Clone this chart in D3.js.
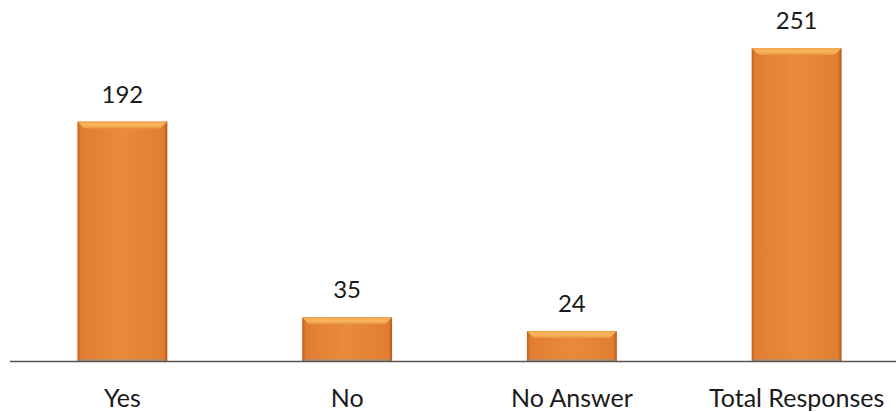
<!DOCTYPE html>
<html>
<head>
<meta charset="utf-8">
<script src="https://cdn.jsdelivr.net/npm/d3@7"></script>
<style>
  html, body { margin: 0; padding: 0; background: #fff; }
  svg { display: block; }
  text { font-family: Lato, "Open Sans", sans-serif; fill: #1a1a1a; }
</style>
</head>
<body>
<svg id="chart" width="896" height="412"></svg>
<script>
// Survey responses
const categories = ["Yes", "No", "No Answer", "Total Responses"];
const values = [192, 35, 24, 251];

const width = 896, height = 412;
const baseline = 361;

const svg = d3.select("#chart");

const x = d3.scaleBand()
  .domain(categories)
  .range([10, 909])
  .paddingInner(0.6)
  .paddingOuter(0.3);

const y = d3.scaleLinear()
  .domain([0, 251])
  .range([baseline, 48]);

// Gradients for a bevelled bar look
const defs = svg.append("defs");
const bodyGrad = defs.append("linearGradient").attr("id", "barBody")
  .attr("x1", 0).attr("x2", 1).attr("y1", 0).attr("y2", 0);
[[0, "#c4601c"], [0.04, "#e07d32"], [0.5, "#ea8a3c"], [0.96, "#e07d32"], [1, "#b9561a"]]
  .forEach(([o, c]) => bodyGrad.append("stop").attr("offset", o).attr("stop-color", c));

const topGrad = defs.append("linearGradient").attr("id", "barTop")
  .attr("x1", 0).attr("x2", 0).attr("y1", 0).attr("y2", 1);
[[0, "#f3a54e"], [0.5, "#f7b85c"], [1, "#eb9440"]]
  .forEach(([o, c]) => topGrad.append("stop").attr("offset", o).attr("stop-color", c));

const g = svg.append("g");
const bars = g.selectAll("g.bar").data(categories.map((c, i) => ({ c, v: values[i] })))
  .join("g").attr("class", "bar");

bars.append("rect")
  .attr("x", d => x(d.c))
  .attr("y", d => y(d.v))
  .attr("width", x.bandwidth())
  .attr("height", d => baseline - y(d.v))
  .attr("fill", "url(#barBody)");

// Top bevel
const bev = 7;
bars.append("path")
  .attr("d", d => {
    const x0 = x(d.c), x1 = x0 + x.bandwidth(), t = y(d.v);
    return `M${x0},${t}L${x1},${t}L${x1 - bev},${t + bev}L${x0 + bev},${t + bev}Z`;
  })
  .attr("fill", "url(#barTop)");

// Bottom tint strip
bars.append("rect")
  .attr("x", d => x(d.c) + 2)
  .attr("y", baseline - 2)
  .attr("width", x.bandwidth() - 4)
  .attr("height", 2)
  .attr("fill", "#9a9a88")
  .attr("opacity", 0.6);

// Value labels
bars.append("text")
  .attr("x", d => x(d.c) + x.bandwidth() / 2)
  .attr("y", d => y(d.v) - 19)
  .attr("text-anchor", "middle")
  .attr("font-size", 24)
  .text(d => d.v);

// Baseline axis
const axis = d3.axisBottom(x).tickSize(0).tickPadding(0);
const ax = svg.append("g").attr("transform", `translate(0,${baseline})`).call(axis);
ax.select(".domain").attr("d", `M10,0.5H896`).attr("stroke", "#555").attr("stroke-width", 1.5);
ax.selectAll(".tick text")
  .attr("dy", 0)
  .attr("y", 46)
  .attr("font-size", 25)
  .attr("font-family", "Lato, 'Open Sans', sans-serif")
  .attr("fill", "#1a1a1a");
</script>
</body>
</html>
